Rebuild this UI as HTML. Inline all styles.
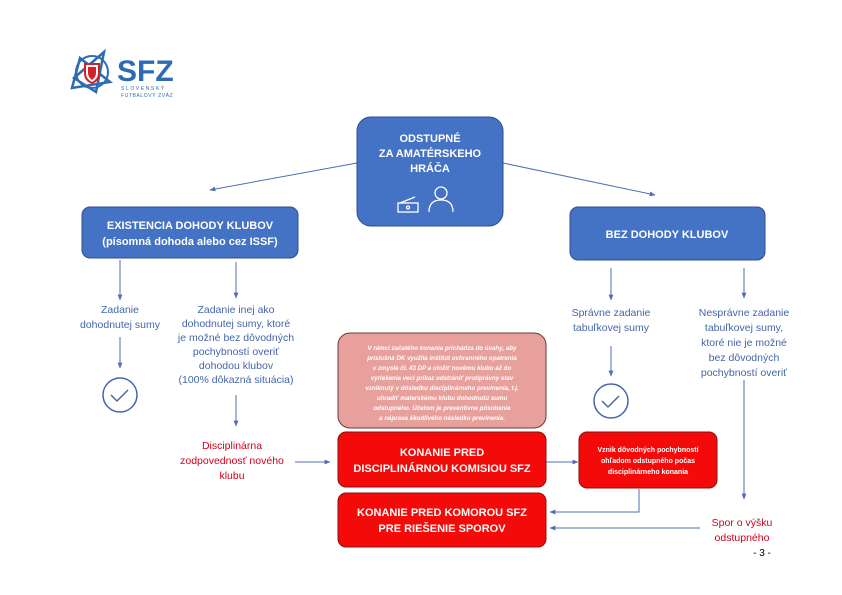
<!DOCTYPE html>
<html><head><meta charset="utf-8"><style>
html,body{margin:0;padding:0;background:#fff;}
svg{display:block;font-family:"Liberation Sans",sans-serif;}
</style></head><body>
<svg width="842" height="595" viewBox="0 0 842 595" xmlns="http://www.w3.org/2000/svg">
<defs>
<marker id="a" viewBox="0 0 10 10" refX="9" refY="5" markerWidth="6" markerHeight="6" orient="auto"><path d="M0,1 L10,5 L0,9 z" fill="#4f6db3"/></marker>
</defs>
<g stroke="#2f6bb5" stroke-width="2.5" fill="none">
<path d="M74,78 L104,52 L96,92 Z"/><path d="M80,58 L110,82 L72,88 Z"/>
<circle cx="92" cy="72" r="16" stroke-width="2"/>
</g>
<path d="M84,63 h16 v10 q0,8 -8,11 q-8,-3 -8,-11 z" fill="#d62027"/>
<path d="M86,65 h12 v8 q0,6 -6,9 q-6,-3 -6,-9 z" fill="#fff"/>
<path d="M88,67 h8 v6 q0,4 -4,7 q-4,-3 -4,-7 z" fill="#d62027"/>
<text x="117" y="81" font-size="30" font-weight="bold" fill="#2f6bb5">SFZ</text>
<text x="121" y="90" font-size="5" fill="#2f6bb5" letter-spacing="1.6">SLOVENSKÝ</text>
<text x="121" y="97" font-size="5" fill="#2f6bb5" letter-spacing="0.6">FUTBALOVÝ ZVÄZ</text>

<g stroke="#4f6db3" stroke-width="1" fill="none">
<line x1="357" y1="163" x2="210" y2="190" marker-end="url(#a)"/>
<line x1="503" y1="163" x2="655" y2="195" marker-end="url(#a)"/>
<line x1="120" y1="260" x2="120" y2="300" marker-end="url(#a)"/>
<line x1="120" y1="337" x2="120" y2="368" marker-end="url(#a)"/>
<line x1="236" y1="262" x2="236" y2="298" marker-end="url(#a)"/>
<line x1="236" y1="395" x2="236" y2="426" marker-end="url(#a)"/>
<line x1="295" y1="462" x2="330" y2="462" marker-end="url(#a)"/>
<line x1="611" y1="268" x2="611" y2="300" marker-end="url(#a)"/>
<line x1="611" y1="346" x2="611" y2="376" marker-end="url(#a)"/>
<line x1="744" y1="268" x2="744" y2="298" marker-end="url(#a)"/>
<line x1="744" y1="380" x2="744" y2="499" marker-end="url(#a)"/>
<line x1="546" y1="462" x2="578" y2="462" marker-end="url(#a)"/>
<polyline points="639,489 639,512 550,512" marker-end="url(#a)"/>
<line x1="700" y1="528" x2="550" y2="528" marker-end="url(#a)"/>
</g>

<rect x="357" y="117" width="146" height="109" rx="14" fill="#4472c4" stroke="#2f4f8f" stroke-width="1"/>
<g fill="#fff" font-size="11" font-weight="bold" text-anchor="middle">
<text x="430" y="142">ODSTUPNÉ</text><text x="430" y="157">ZA AMATÉRSKEHO</text><text x="430" y="172">HRÁČA</text>
</g>
<g stroke="#fff" stroke-width="1.3" fill="none">
<circle cx="441" cy="193" r="6"/><path d="M429,212 q0,-12 12,-12 q12,0 12,12"/>
<rect x="398" y="203" width="20" height="9"/><path d="M400,203 l15,-6"/>
<circle cx="408" cy="207.5" r="1.5"/>
</g>
<rect x="82" y="207" width="216" height="51" rx="8" fill="#4472c4" stroke="#2f4f8f"/>
<g fill="#fff" font-size="11" font-weight="bold" text-anchor="middle">
<text x="190" y="229">EXISTENCIA DOHODY KLUBOV</text><text x="190" y="245">(písomná dohoda alebo cez ISSF)</text>
</g>
<rect x="570" y="207" width="195" height="53" rx="8" fill="#4472c4" stroke="#2f4f8f"/>
<text x="667" y="238" fill="#fff" font-size="11" font-weight="bold" text-anchor="middle">BEZ DOHODY KLUBOV</text>

<g fill="#4466aa" font-size="10.5" text-anchor="middle">
<text x="120" y="313">Zadanie</text><text x="120" y="328">dohodnutej sumy</text>
<text x="236" y="313">Zadanie inej ako</text><text x="236" y="327">dohodnutej sumy, ktoré</text><text x="236" y="341">je možné bez dôvodných</text><text x="236" y="355">pochybností overiť</text><text x="236" y="369">dohodou klubov</text><text x="236" y="383">(100% dôkazná situácia)</text>
<text x="611" y="316">Správne zadanie</text><text x="611" y="331">tabuľkovej sumy</text>
<text x="744" y="316">Nesprávne zadanie</text><text x="744" y="331">tabuľkovej sumy,</text><text x="744" y="346">ktoré nie je možné</text><text x="744" y="361">bez dôvodných</text><text x="744" y="376">pochybností overiť</text>
</g>
<g fill="none" stroke="#4466aa" stroke-width="1.5">
<circle cx="120" cy="395" r="17"/><path d="M111,395 l6,6 l11,-11"/>
<circle cx="611" cy="401" r="17"/><path d="M602,401 l6,6 l11,-11"/>
</g>

<g fill="#d0021b" font-size="10.5" text-anchor="middle">
<text x="232" y="449">Disciplinárna</text><text x="232" y="464">zodpovednosť nového</text><text x="232" y="479">klubu</text>
<text x="742" y="526">Spor o výšku</text><text x="742" y="541">odstupného</text>
</g>
<text x="762" y="556" font-size="10" fill="#000" text-anchor="middle">- 3 -</text>

<rect x="338" y="333" width="208" height="95" rx="12" fill="#e8a09c" stroke="#6b3a3a" stroke-width="1"/>
<g fill="#fff" font-size="6.2" font-style="italic" font-weight="bold" text-anchor="middle">
<text x="442" y="350">V rámci začatého konania prichádza do úvahy, aby</text>
<text x="442" y="360">príslušná DK využila inštitút ochranného opatrenia</text>
<text x="442" y="370">v zmysle čl. 43 DP a uložiť novému klubu až do</text>
<text x="442" y="380">vyriešenia veci príkaz odstrániť protiprávny stav</text>
<text x="442" y="390">vzniknutý v dôsledku disciplinárneho previnenia, t.j.</text>
<text x="442" y="400">uhradiť materskému klubu dohodnutú sumu</text>
<text x="442" y="410">odstupného. Účelom je preventívne pôsobenie</text>
<text x="442" y="420">a náprava škodlivého následku previnenia.</text>
</g>

<rect x="338" y="432" width="208" height="55" rx="8" fill="#f50a0a" stroke="#8a1010"/>
<g fill="#fff" font-size="11" font-weight="bold" text-anchor="middle">
<text x="442" y="456">KONANIE PRED</text><text x="442" y="472">DISCIPLINÁRNOU KOMISIOU SFZ</text>
</g>
<rect x="338" y="493" width="208" height="54" rx="8" fill="#f50a0a" stroke="#8a1010"/>
<g fill="#fff" font-size="11" font-weight="bold" text-anchor="middle">
<text x="442" y="516">KONANIE PRED KOMOROU SFZ</text><text x="442" y="532">PRE RIEŠENIE SPOROV</text>
</g>
<rect x="579" y="432" width="138" height="56" rx="8" fill="#f50a0a" stroke="#8a1010"/>
<g fill="#fff" font-size="7" font-weight="bold" text-anchor="middle">
<text x="648" y="452">Vznik dôvodných pochybností</text><text x="648" y="463">ohľadom odstupného počas</text><text x="648" y="474">disciplinárneho konania</text>
</g>
</svg>
</body></html>
